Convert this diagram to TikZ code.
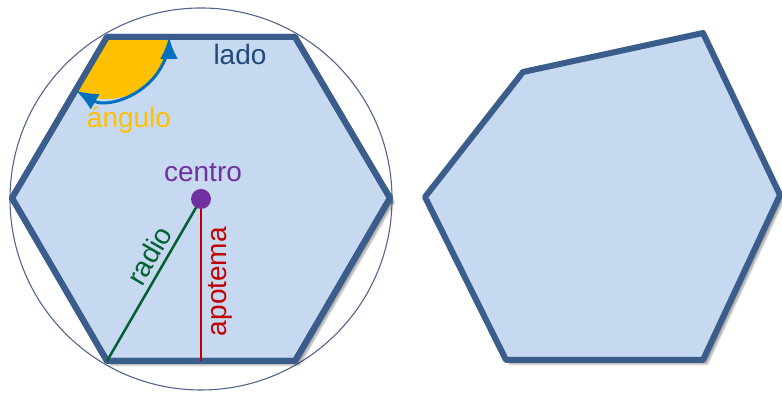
\documentclass[tikz,border=0pt]{standalone}
\usepackage{fontspec}
\setmainfont{Liberation Sans}
\usetikzlibrary{arrows.meta,calc,shadows.blur}
\definecolor{hexfill}{RGB}{198,217,240}
\definecolor{hexline}{RGB}{59,93,140}
\definecolor{circline}{RGB}{85,100,140}
\definecolor{angyellow}{RGB}{255,192,0}
\definecolor{angblue}{RGB}{0,112,192}
\definecolor{ladoblue}{RGB}{36,72,122}
\definecolor{cpurple}{RGB}{112,48,160}
\definecolor{rgreen}{RGB}{0,96,48}
\definecolor{ared}{RGB}{192,0,0}
\tikzstyle{hexagon}=[fill=hexfill, draw=hexline, line width=6pt, line join=round,
  blur shadow={shadow xshift=4pt, shadow yshift=-4pt, shadow blur steps=6, shadow opacity=40}]
\tikzstyle{outline}=[draw=hexline, line width=6pt, line join=round]
\tikzstyle{tag}=[font=\fontsize{28}{32}\selectfont, inner sep=0pt]
\tikzstyle{dot}=[circle, fill=cpurple, minimum size=20pt, inner sep=0pt]
\tikzstyle{bigtip}=[arrows={Latex[length=22pt, width=18pt]-Latex[length=22pt, width=18pt]}]

\begin{document}
\begin{tikzpicture}[x=1pt, y=1pt]
	\useasboundingbox (0,0) rectangle (782,395);
	% regular hexagon
	\coordinate (a) at (107,358);
	\coordinate (b) at (295,358);
	\coordinate (c) at (390,197);
	\coordinate (d) at (295,34);
	\coordinate (e) at (107,34);
	\coordinate (f) at (12,197);
	\coordinate (m) at (201,34);
	\draw [draw=circline, line width=1.1pt] (201,196) circle (191);
	\path [style=hexagon] (a) -- (b) -- (c) -- (d) -- (e) -- (f) -- cycle;
	\fill [angyellow] (a) -- ++(0:62) arc (0:-120:62) -- cycle;
	\path [style=outline] (a) -- (b) -- (c) -- (d) -- (e) -- (f) -- cycle;
	\draw [style=bigtip, angblue, line width=3pt] ($(a)+(-120:62)$) arc (-120:0:62);
	\coordinate (o) at (201,196);
	\draw [rgreen, line width=2.5pt] (e) -- node [style=tag, text=rgreen, sloped, above=5pt, pos=0.6] (radio) {radio} (o);
	\draw [ared, line width=2.5pt] (m) -- node [style=tag, text=ared, sloped, below=6pt, pos=0.49] (apotema) {apotema} (o);
	\node [style=dot] (centre) at (o) {};
	\node [style=tag, text=ladoblue, anchor=base] (lado) at (240,330) {lado};
	\node [style=tag, text=angyellow, anchor=base] (angulo) at (129,267) {ángulo};
	\node [style=tag, text=cpurple, anchor=base] (centro) at (203,213) {centro};
	% irregular hexagon
	\coordinate (p) at (523,323);
	\coordinate (q) at (703,362);
	\coordinate (r) at (780,200);
	\coordinate (s) at (703,35);
	\coordinate (t) at (506,35);
	\coordinate (u) at (425,198);
	\path [style=hexagon] (p) -- (q) -- (r) -- (s) -- (t) -- (u) -- cycle;
\end{tikzpicture}
\end{document}
